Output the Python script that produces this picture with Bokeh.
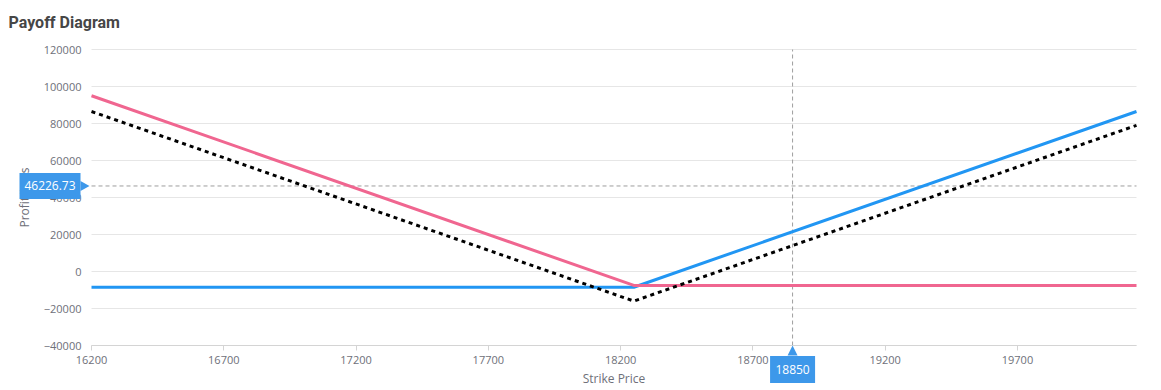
from bokeh.plotting import figure
from bokeh.models import Range1d, FixedTicker, BasicTickFormatter
from bokeh.core.properties import value
from bokeh.embed import file_html
from bokeh.resources import INLINE

# ---- data ----
strikes = [16200, 18250, 20150]
put_pnl = [95000, -7500, -7500]
call_pnl = [-8500, -8500, 86500]
combined_pnl = [86500, -16000, 79000]

x_ticks = [16200, 16700, 17200, 17700, 18200, 18700, 19200, 19700]
y_ticks = [-40000, -20000, 0, 20000, 40000, 60000, 80000, 100000, 120000]

cross_x = 18850
cross_y = 46226.73

x_start, x_end = 16200, 20150
y_start, y_end = -40000, 120000

# ---- styles / layout ----
BLUE = "#2196f3"
PINK = "#f06690"
LABEL_BG = "#3d98ea"
TICK_COLOR = "#6e7079"
FONT = "Open Sans"

W, H = 1161, 390                 # canvas
LEFT, RIGHT, TOP, BOTTOM = 91, 25, 49, 45   # plot area margins (px)
FW, FH = W - LEFT - RIGHT, H - TOP - BOTTOM
ppx = FW / (x_end - x_start)
ppy = FH / (y_end - y_start)

p = figure(
    frame_width=W, frame_height=H, min_border=0,
    x_range=Range1d(x_start - LEFT / ppx, x_end + RIGHT / ppx),
    y_range=Range1d(y_start - BOTTOM / ppy, y_end + TOP / ppy),
    output_backend="svg", toolbar_location=None, tools="", title_location=None,
)
p.outline_line_color = None
p.background_fill_color = "white"
p.border_fill_color = "white"
p.xgrid.visible = False
p.ygrid.visible = False

# axes (pinned to the plot area edges)
p.xaxis.fixed_location = y_start
p.yaxis.fixed_location = x_start
p.xaxis.bounds = (x_start, x_end)
p.yaxis.bounds = (y_start, y_end)
p.xaxis.ticker = FixedTicker(ticks=x_ticks)
p.yaxis.ticker = FixedTicker(ticks=y_ticks)
p.yaxis.formatter = BasicTickFormatter(use_scientific=False)
p.xaxis.minor_tick_line_color = None
p.yaxis.minor_tick_line_color = None

p.xaxis.axis_line_color = "#d4d4d4"
p.xaxis.major_tick_line_color = "#d4d4d4"
p.xaxis.major_tick_out = 5
p.xaxis.major_tick_in = 0
p.xaxis.major_label_standoff = 5
p.xaxis.axis_label = "Strike Price"
p.xaxis.axis_label_standoff = 3

p.yaxis.axis_line_color = None
p.yaxis.major_tick_line_color = None
p.yaxis.major_tick_out = 0
p.yaxis.major_tick_in = 0
p.yaxis.major_label_standoff = 10
p.yaxis.axis_label = "Profit/Loss"
p.yaxis.axis_label_standoff = 8

for ax in (p.xaxis, p.yaxis):
    ax.major_label_text_font = FONT
    ax.major_label_text_font_size = "11px"
    ax.major_label_text_color = TICK_COLOR
    ax.axis_label_text_font = FONT
    ax.axis_label_text_font_size = "12px"
    ax.axis_label_text_font_style = "normal"
    ax.axis_label_text_color = TICK_COLOR

# horizontal grid lines at the y ticks
p.segment(x0=[x_start] * len(y_ticks), x1=[x_end] * len(y_ticks),
          y0=y_ticks, y1=y_ticks, line_color="#e6e6e6", line_width=1)

# crosshair lines
p.segment(x0=[cross_x], x1=[cross_x], y0=[y_start], y1=[y_end],
          line_color="#9e9e9e", line_dash="4 3", line_width=1)
p.segment(x0=[x_start], x1=[x_end], y0=[cross_y], y1=[cross_y],
          line_color="#9e9e9e", line_dash="4 3", line_width=1)

# series
p.line(strikes, call_pnl, line_color=BLUE, line_width=3)
p.line(strikes, put_pnl, line_color=PINK, line_width=3)
p.line(strikes, combined_pnl, line_color="black", line_width=3, line_dash="4 4")

# title
p.text(x=[x_start - 83 / ppx], y=[y_end + 27 / ppy], text=["Payoff Diagram"],
       text_align="left", text_baseline="middle", text_color="#464646",
       text_font=value("Roboto"), text_font_size="16px", text_font_style="bold")

# ---- crosshair value labels (drawn above the axes) ----
ylab_x = x_start - 41.5 / ppx
r = [
    p.rect(x=[ylab_x], y=[cross_y], width=61, height=26,
           width_units="screen", height_units="screen",
           fill_color=LABEL_BG, line_color=None),
    p.patch(x=[x_start - 11 / ppx, x_start - 2 / ppx, x_start - 11 / ppx],
            y=[cross_y + 5 / ppy, cross_y, cross_y - 5 / ppy],
            fill_color=LABEL_BG, line_color=None),
    p.text(x=[ylab_x], y=[cross_y], text=[f"{cross_y:.2f}"],
           text_align="center", text_baseline="middle", text_color="white",
           text_font=value(FONT), text_font_size="12px"),
]
xlab_y = y_start - 24 / ppy
r += [
    p.rect(x=[cross_x], y=[xlab_y], width=45, height=27,
           width_units="screen", height_units="screen",
           fill_color=LABEL_BG, line_color=None),
    p.patch(x=[cross_x - 5 / ppx, cross_x, cross_x + 5 / ppx],
            y=[y_start - 10 / ppy, y_start, y_start - 10 / ppy],
            fill_color=LABEL_BG, line_color=None),
    p.text(x=[cross_x], y=[xlab_y], text=[str(cross_x)],
           text_align="center", text_baseline="middle", text_color="white",
           text_font=value(FONT), text_font_size="12px"),
]
for rr in r:
    rr.level = "annotation"

open("out.html", "w").write(file_html(p, INLINE))
